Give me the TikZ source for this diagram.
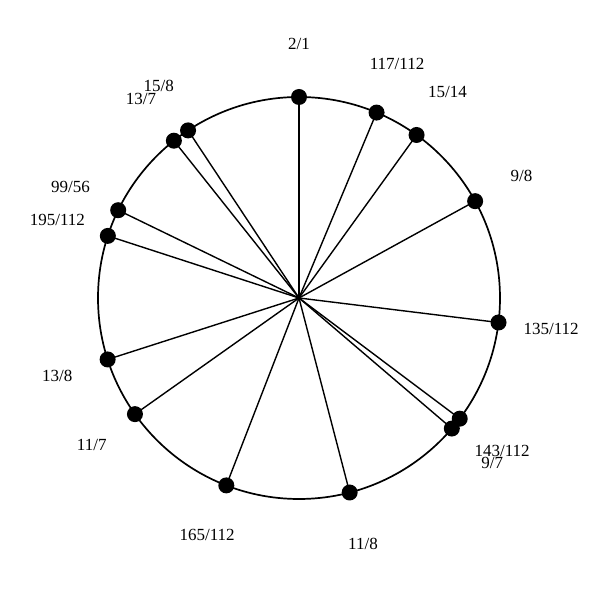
\documentclass[tikz,border=0pt]{standalone}
\usepackage{fontspec}
\setmainfont{Liberation Serif}
\begin{document}
\begin{tikzpicture}[x=0.5pt,y=0.5pt,
  dot/.style={circle,fill=black,inner sep=0pt,minimum size=8pt},
  ray/.style={line width=0.7pt},
  rim/.style={line width=0.85pt},
  lab/.style={font=\fontsize{8.5}{9}\selectfont,inner sep=0pt}]
\useasboundingbox (0,0) rectangle (600,600);
\coordinate (c) at (299,302);
\draw[rim] (c) circle[radius=201];
\foreach \n/\a/\t in {a/360/2\slash1, b/22.7/117\slash112, d/35.8/15\slash14, e/61.2/9\slash8,
  f/97.0/135\slash112, g/126.9/143\slash112, h/130.5/9\slash7, i/165.4/11\slash8,
  j/201.2/165\slash112, k/234.7/11\slash7, l/252.2/13\slash8, m/288.0/195\slash112,
  o/295.9/99\slash56, p/321.5/13\slash7, q/326.5/15\slash8}{
  \path (c) ++(90-\a:201) coordinate (q\n);
  \path (c) ++(90-\a:254) node[lab] (t\n) {\t};
  \draw[ray] (c) -- (q\n);
  \node[dot] (d\n) at (q\n) {};
}
\end{tikzpicture}
\end{document}
